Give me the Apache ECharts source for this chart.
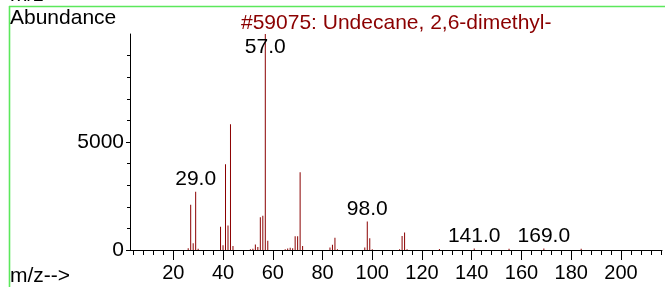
<!DOCTYPE html>
<html><head><meta charset="utf-8">
<script src="https://cdn.jsdelivr.net/npm/echarts@6/dist/echarts.min.js"></script>
<style>html,body{margin:0;padding:0;background:#fff}#c{width:665px;height:287px}</style>
</head><body><div id="c"></div>
<script>
// m/z values of the peaks
const mzValues = [26,27,28,29,30,39,40,41,42,43,44,51,52,53,54,55,56,57,58,65,66,67,68,69,70,71,72,83,84,85,86,97,98,99,100,111,112,113,114,127,141,155,169,184];
// abundance of each peak
const abundances = [80,2100,310,2700,60,1080,215,3970,1130,5820,190,40,60,250,140,1520,1580,10000,430,40,70,100,80,640,640,3600,185,115,240,565,40,115,1320,540,30,40,650,810,40,50,70,60,70,60];
// peaks that carry an m/z label
const labelledMz = [29,57,98,141,169];
const xTickValues = [20,40,60,80,100,120,140,160,180,200];
const yTickValues = [0,5000];
const titleText = '#59075: Undecane, 2,6-dimethyl-';
const yAxisText = 'Abundance';
const xAxisText = 'm/z-->';

const FONT = 'Liberation Sans, Arial, sans-serif';
const RED = '#8B0000';
const GREEN = '#5CE85C';

const barData = mzValues.map((mz, i) => {
  const item = { value: [mz, abundances[i]] };
  if (labelledMz.includes(mz)) {
    const isBase = abundances[i] === Math.max(...abundances);
    item.label = {
      show: true,
      position: isBase ? 'insideTop' : 'top',
      distance: isBase ? 3 : 2,
      formatter: p => p.value[0].toFixed(1),
      color: '#000', fontSize: 21, fontFamily: FONT
    };
  }
  return item;
});

const chart = echarts.init(document.getElementById('c'), null, { renderer: 'canvas' });
chart.setOption({
  animation: false,
  backgroundColor: '#fff',
  title: {
    text: titleText, left: 236, top: 8,
    textStyle: { color: RED, fontSize: 21, fontWeight: 'normal', fontFamily: FONT }
  },
  grid: { left: 130, right: 3, top: 34, bottom: 37, outerBoundsMode: 'none' },
  xAxis: {
    type: 'value', min: 2.6, max: 216.5, splitNumber: 10,
    axisLine: { show: true, lineStyle: { color: '#000', width: 1 } },
    axisTick: { show: true, length: 10, customValues: xTickValues, lineStyle: { color: '#000' } },
    minorTick: { show: true, splitNumber: 5, length: 5, lineStyle: { color: '#000' } },
    axisLabel: { customValues: xTickValues, margin: 13, color: '#000', fontSize: 20, fontFamily: FONT, formatter: v => String(v) },
    splitLine: { show: false }
  },
  yAxis: {
    type: 'value', min: 0, max: 10000, interval: 5000,
    axisLine: { show: true, lineStyle: { color: '#000', width: 1 } },
    axisTick: { show: true, length: 4, customValues: yTickValues, lineStyle: { color: '#000' } },
    minorTick: { show: true, splitNumber: 5, length: 3, lineStyle: { color: '#000' } },
    axisLabel: { customValues: yTickValues, margin: 6, color: '#000', fontSize: 21, fontFamily: FONT, formatter: v => String(v) },
    splitLine: { show: false }
  },
  graphic: [
    { type: 'line', shape: { x1: 9, y1: 6.5, x2: 665, y2: 6.5 }, style: { stroke: GREEN, lineWidth: 1.6 }, silent: true },
    { type: 'line', shape: { x1: 9.5, y1: 6, x2: 9.5, y2: 287 }, style: { stroke: GREEN, lineWidth: 1.6 }, silent: true },
    { type: 'text', left: 10, top: 8, style: { text: yAxisText, fill: '#000', font: '21px ' + FONT } },
    { type: 'text', left: 10, top: 266, style: { text: xAxisText, fill: '#000', font: '21px ' + FONT } },
    { type: 'text', left: 10, top: -15, style: { text: 'm/z -->', fill: '#000', font: '21px ' + FONT } }
  ],
  series: [{
    type: 'bar', data: barData, barWidth: 1,
    itemStyle: { color: RED },
    z: 2
  }]
});
</script></body></html>
